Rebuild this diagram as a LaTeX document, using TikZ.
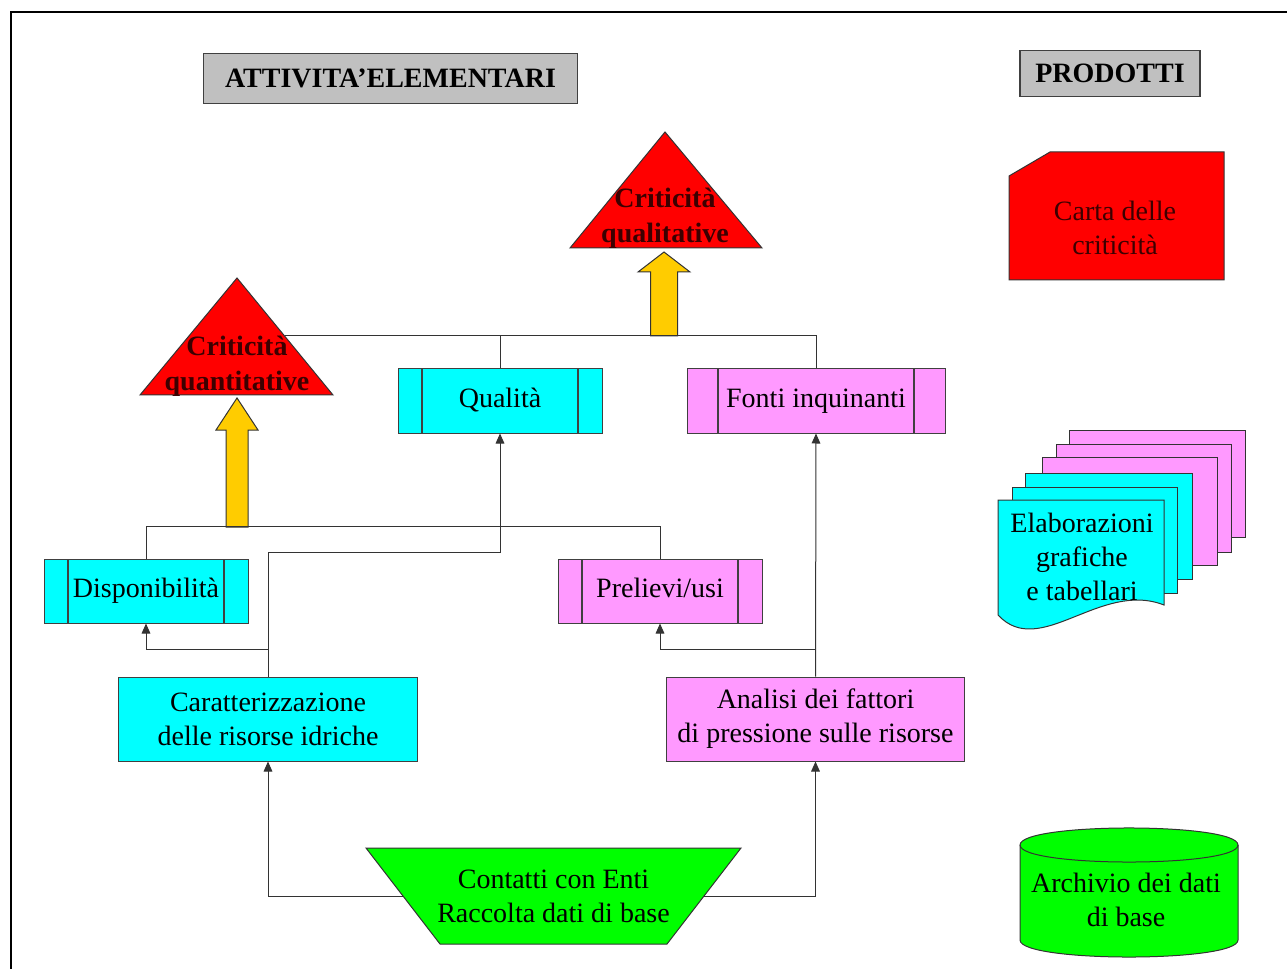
\documentclass[tikz,border=0pt]{standalone}
\usepackage{fontspec}
\setmainfont{Liberation Serif}
\usetikzlibrary{arrows.meta}
\definecolor{ciano}{RGB}{0,255,255}
\definecolor{rosa}{RGB}{255,153,255}
\definecolor{rosso}{RGB}{255,0,0}
\definecolor{verde}{RGB}{0,255,0}
\definecolor{giallo}{RGB}{255,204,0}
\definecolor{grigio}{RGB}{192,192,192}
\definecolor{scuro}{RGB}{60,0,0}

\begin{document}
\begin{tikzpicture}[x=0.75pt, y=-0.75pt, >={Triangle[width=6.5pt,length=7.5pt]},
	every node/.style={font=\fontsize{21}{25.5}\selectfont, align=center, inner sep=0pt},
	titolo/.style={draw=black!75, fill=grigio, line width=0.9pt, font=\fontsize{21}{25.5}\selectfont\bfseries},
	blocco/.style={draw=black!75, line width=0.75pt, minimum width=224pt, minimum height=63pt},
	proc/.style={draw=black!75, line width=0.75pt, minimum width=153pt, minimum height=48pt,
		text height=14pt, text depth=4pt,
		path picture={\draw[black!75, line width=1.5pt]
			([xshift=#1]path picture bounding box.north west) -- ([xshift=#1]path picture bounding box.south west)
			([xshift=-#1]path picture bounding box.north east) -- ([xshift=-#1]path picture bounding box.south east);}},
	proc/.default=18pt,
	linea/.style={draw=black!80, line width=0.75pt},
	freccia/.style={linea, ->},
	blk/.style={draw=black!80, fill=giallo, line width=0.75pt},
	tri/.style={draw=black!80, fill=rosso, line width=0.75pt},
	tritesto/.style={text=scuro, font=\fontsize{21}{26}\selectfont\bfseries},
	prod/.style={draw=black!80, line width=0.75pt}]
	\useasboundingbox (0,0) rectangle (1287,969);
	
	% 1. cornice e titoli
	\draw[line width=1.6pt] (11,969) -- (11,12) -- (1287,12);
	\node[titolo, minimum width=281pt, minimum height=37pt] (att) at (390.5,78.5) {ATTIVITA'ELEMENTARI};
	\node[titolo, minimum width=135pt, minimum height=35pt] (prd) at (1110,73.5) {PRODOTTI};
	
	% 2. criticita (triangoli) e frecce gialle
	\draw[tri] (570,248) -- (665,132) -- (762,248) -- cycle;
	\node[tritesto] (qualit) at (665,218) {Criticità\\qualitative};
	\draw[tri] (140,395) -- (237,278) -- (333,395) -- cycle;
	\node[tritesto] (quant) at (237,366) {Criticità\\quantitative};
	\coordinate (qnbordo) at (285,336);
	\draw[blk] (650.5,336) -- (650.5,272) -- (638,272) -- (664,252) -- (690,272) -- (677.5,272) -- (677.5,336) -- cycle;
	\draw[blk] (226,527) -- (226,430) -- (216,430) -- (237,398) -- (258,430) -- (248,430) -- (248,527) -- cycle;
	
	% 3. blocchi
	\node[proc, fill=ciano] (qual) at (500,401) {Qualità};
	\node[proc=23pt, fill=rosa, minimum width=193.5pt] (fonti) at (816,401) {Fonti inquinanti};
	\node[proc, fill=ciano] (disp) at (146,591) {Disponibilità};
	\node[proc, fill=rosa] (prel) at (660,591) {Prelievi/usi};
	\node[blocco, fill=ciano] (carat) at (268,719) {Caratterizzazione\\delle risorse idriche};
	\node[blocco, fill=rosa] (anal) at (815.5,719) {Analisi dei fattori\\di pressione sulle risorse};
	\draw[prod, fill=verde] (366,848) -- (741,848) -- (667,944) -- (440,944) -- cycle;
	\node (cont) at (553.5,896) {Contatti con Enti\\Raccolta dati di base};
	\coordinate (contw) at (403,896);
	\coordinate (conte) at (704,896);
	
	% 4. collegamenti
	\draw[linea] (qnbordo) -| (fonti.north);
	\draw[linea] (qual.north) -- (qual.north |- qnbordo);
	\draw[linea] (disp.north) -- ++(0,-32) -| (prel.north);
	\draw[freccia] (carat.north) -- ++(0,-124) -| (qual.south);
	\draw[freccia] (carat.north |- 0,649) -| (disp.south);
	\draw[freccia] (anal.north) -- (fonti.south);
	\draw[freccia] (anal.north |- 0,649) -| (prel.south);
	\draw[freccia] (contw) -| (carat.south);
	\draw[freccia] (conte) -| (anal.south);
	
	% 5. prodotti
	\draw[prod, fill=rosso] (1009,176) -- (1050,152) -- (1224,152) -- (1224,280) -- (1009,280) -- cycle;
	\node[text=scuro] (carta) at (1115,228) {Carta delle\\criticità};
	
	\draw[prod, fill=rosa] (1069,430) rectangle (1245,537);
	\draw[prod, fill=rosa] (1056,444) rectangle (1231,552);
	\draw[prod, fill=rosa] (1042,457) rectangle (1217,565);
	\draw[prod, fill=ciano] (1025,473) rectangle (1192,579);
	\draw[prod, fill=ciano] (1012,487) rectangle (1177,593);
	\draw[prod, fill=ciano] (998,615) -- (998,500) -- (1164,500) -- (1164,605)
		.. controls (1100,580) and (1040,660) .. cycle;
	\node (elab) at (1082,557) {Elaborazioni\\grafiche\\e tabellari};
	
	\draw[prod, fill=verde] (1020,845) -- (1020,940) .. controls (1020,962.7) and (1238,962.7) .. (1238,940)
		-- (1238,845) .. controls (1238,822.3) and (1020,822.3) .. (1020,845);
	\draw[prod] (1020,845) .. controls (1020,867.7) and (1238,867.7) .. (1238,845);
	\node (arch) at (1126,900) {Archivio dei dati\\di base};
\end{tikzpicture}
\end{document}
